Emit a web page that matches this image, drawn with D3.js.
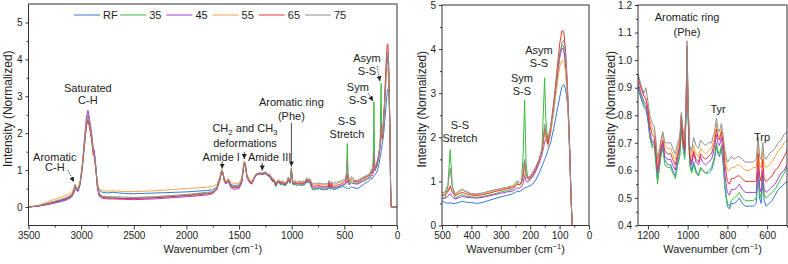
<!DOCTYPE html>
<html>
<head>
<meta charset="utf-8">
<script src="https://cdn.jsdelivr.net/npm/d3@7"></script>
<style>
  body { margin: 0; background: #fff; }
  text { font-family: "Liberation Sans", Arial, sans-serif; fill: #222; }
</style>
</head>
<body>
<div id="chart"></div>
<script>
/* Wavenumbers (cm-1) shared by every spectrum. */
const wavenumbers = [
  3500, 3400, 3300, 3200, 3130, 3090, 3070, 3058, 3045, 3030, 3010, 2990, 2970, 2950, 2935, 2920, 2900, 2885, 2875, 2860,
  2845, 2830, 2800, 2750, 2700, 2600, 2500, 2400, 2300, 2200, 2100, 2000, 1900, 1800, 1750, 1710, 1680, 1665, 1655, 1640,
  1625, 1610, 1600, 1590, 1570, 1540, 1500, 1475, 1460, 1450, 1440, 1425, 1400, 1380, 1360, 1340, 1320, 1300, 1280, 1260,
  1250, 1235, 1220, 1210, 1200, 1190, 1178, 1168, 1160, 1152, 1144, 1135, 1125, 1115, 1100, 1085, 1075, 1062, 1050, 1040,
  1032, 1025, 1015, 1008, 1003, 998, 990, 980, 970, 958, 945, 935, 925, 910, 895, 880, 865, 855, 848, 840,
  830, 822, 812, 800, 790, 780, 765, 750, 740, 725, 710, 690, 670, 655, 645, 638, 630, 622, 615, 605,
  590, 575, 560, 545, 530, 515,
  500, 490, 480, 472, 465, 455, 440, 430, 420, 400, 380, 360, 340, 320, 300, 280, 260, 250, 244, 238,
  230, 224, 219, 214, 208, 200, 190, 180, 170, 160, 155, 151, 147, 140, 130, 120, 110, 100, 92, 86,
  80, 74, 70, 65, 61, 57, 0
]

/* Normalized intensity, one list per sample. */
const seriesRF = [
  0, .03, .08, .14, .2, .27, .38, .5, .45, .42, .6, 1.0, 1.6, 2.2, 2.45, 2.2, 1.85, 1.45, 1.4, 1.0,
  .6, .45, .4, .38, .4, .37, .36, .37, .38, .39, .4, .41, .43, .45, .47, .55, .8, 1.0, .95, .75,
  .68, .72, .74, .68, .6, .58, .6, .72, 1.05, 1.22, 1.15, .85, .7, .66, .78, .88, .9, .92, .9, .92,
  .9, .86, .83, .82, .78, .72, .69, .7, .64, .57, .6, .66, .69, .64, .62, .62, .6, .58, .63, .66,
  .76, .7, .65, .8, .98, .8, .64, .6, .63, .6, .58, .61, .6, .59, .59, .6, .64, .69, .66, .65,
  .68, .63, .53, .47, .46, .48, .48, .49, .5, .48, .47, .47, .47, .48, .58, .5, .48, .56, .49, .47,
  .48, .49, .51, .53, .54, .55,
  .56, .52, .5, .52, .5, .5, .53, .55, .53, .52, .5, .53, .57, .61, .65, .68, .72, .75, .78, .76,
  .8, .82, .85, .86, .88, .9, .95, 1.05, 1.18, 1.35, 1.42, 1.5, 1.55, 1.7, 1.9, 2.2, 2.55, 2.9, 3.15, 3.2,
  3.1, 2.8, 2.4, 1.5, .6, 0, 0
]
const series35 = [
  0, .03, .09, .18, .25, .32, .42, .58, .5, .45, .65, 1.1, 1.7, 2.3, 2.5, 2.25, 1.9, 1.5, 1.45, 1.05,
  .55, .35, .28, .26, .25, .24, .24, .25, .26, .28, .3, .32, .35, .38, .4, .5, .78, .98, .93, .72,
  .65, .7, .72, .64, .55, .53, .55, .68, 1.02, 1.2, 1.12, .82, .68, .64, .76, .86, .88, .9, .88, .9,
  .91, .87, .84, .83, .79, .72, .68, .69, .62, .55, .6, .65, .68, .62, .61, .61, .59, .57, .62, .65,
  .75, .69, .64, .8, 1.0, .8, .62, .59, .62, .59, .58, .61, .6, .59, .6, .61, .65, .7, .67, .66,
  .69, .64, .54, .48, .47, .49, .5, .51, .52, .5, .49, .49, .49, .5, .6, .52, .5, .58, .51, .5,
  .51, .52, .53, .55, .57, .59,
  .61, .62, .9, 1.72, .9, .62, .68, .7, .67, .65, .64, .66, .69, .72, .76, .79, .82, .9, .98, .92,
  .95, 1.6, 2.85, 1.4, 1.05, 1.05, 1.12, 1.25, 1.45, 1.75, 2.6, 3.35, 2.4, 1.9, 2.2, 2.7, 3.3, 3.9, 4.1, 4.05,
  3.6, 3.0, 2.5, 1.55, .6, 0, 0
]
const series45 = [
  0, .03, .08, .16, .22, .3, .4, .55, .48, .44, .62, 1.1, 1.8, 2.45, 2.62, 2.4, 2.0, 1.58, 1.55, 1.1,
  .5, .3, .24, .22, .22, .21, .2, .21, .22, .24, .26, .28, .3, .33, .36, .48, .75, .97, .92, .7,
  .62, .66, .68, .6, .5, .48, .5, .65, 1.0, 1.18, 1.1, .8, .66, .62, .75, .86, .88, .9, .88, .9,
  .92, .88, .85, .84, .8, .74, .7, .71, .66, .59, .62, .67, .7, .65, .64, .64, .62, .6, .65, .68,
  .78, .72, .67, .82, 1.02, .82, .65, .62, .66, .63, .62, .65, .63, .62, .63, .64, .68, .73, .7, .69,
  .72, .67, .58, .52, .51, .53, .53, .54, .55, .53, .52, .52, .52, .52, .62, .54, .52, .6, .53, .52,
  .53, .54, .55, .57, .59, .6,
  .62, .62, .66, .73, .65, .6, .64, .66, .64, .63, .62, .64, .67, .7, .73, .76, .78, .82, .86, .84,
  .88, .95, 1.15, 1.0, .98, 1.05, 1.12, 1.25, 1.4, 1.6, 1.75, 1.9, 1.95, 1.85, 2.15, 2.6, 3.2, 3.8, 4.02, 4.0,
  3.7, 3.1, 2.5, 1.55, .6, 0, 0
]
const series55 = [
  0, .05, .16, .26, .33, .4, .5, .62, .55, .5, .7, 1.1, 1.7, 2.3, 2.45, 2.2, 1.85, 1.45, 1.4, 1.0,
  .65, .5, .45, .43, .44, .42, .42, .43, .44, .46, .48, .5, .52, .54, .56, .62, .85, 1.02, .97, .78,
  .72, .76, .78, .72, .66, .64, .65, .78, 1.1, 1.25, 1.18, .88, .74, .7, .8, .9, .92, .93, .92, .94,
  .94, .9, .87, .86, .83, .78, .75, .74, .7, .63, .66, .7, .73, .69, .68, .68, .66, .64, .68, .71,
  .8, .74, .7, .84, 1.04, .84, .68, .65, .69, .66, .65, .68, .67, .66, .67, .68, .72, .77, .73, .72,
  .75, .71, .65, .6, .6, .61, .61, .62, .62, .61, .6, .6, .61, .61, .69, .62, .61, .67, .62, .61,
  .62, .63, .65, .67, .68, .7,
  .71, .72, .76, .85, .76, .7, .77, .8, .76, .71, .7, .72, .76, .79, .82, .85, .88, .92, .95, .92,
  .95, 1.1, 1.3, 1.1, 1.05, 1.1, 1.18, 1.3, 1.45, 1.65, 1.85, 2.1, 2.0, 1.8, 2.1, 2.6, 3.1, 3.6, 3.75, 3.72,
  3.5, 2.9, 2.4, 1.5, .6, 0, 0
]
const series65 = [
  0, .03, .1, .18, .24, .3, .42, .58, .5, .46, .65, 1.05, 1.65, 2.2, 2.35, 2.15, 1.8, 1.4, 1.38, 1.0,
  .55, .33, .26, .24, .24, .23, .23, .24, .25, .27, .29, .31, .33, .36, .38, .5, .78, .98, .93, .72,
  .65, .7, .72, .64, .54, .52, .54, .68, 1.02, 1.2, 1.12, .82, .68, .64, .77, .88, .9, .92, .9, .92,
  .94, .9, .87, .86, .82, .76, .73, .72, .67, .6, .64, .68, .71, .67, .66, .66, .64, .62, .66, .69,
  .8, .73, .68, .84, 1.05, .84, .66, .63, .67, .64, .63, .66, .65, .64, .65, .66, .7, .75, .72, .71,
  .74, .7, .62, .56, .55, .57, .57, .58, .58, .57, .56, .56, .56, .56, .66, .58, .56, .64, .57, .56,
  .57, .58, .6, .61, .63, .65,
  .67, .7, .78, .9, .76, .68, .73, .75, .72, .69, .68, .7, .73, .77, .8, .83, .86, .9, .94, .92,
  .96, 1.15, 1.45, 1.15, 1.08, 1.08, 1.18, 1.3, 1.48, 1.7, 1.95, 2.2, 2.1, 1.85, 2.25, 2.8, 3.45, 4.1, 4.42, 4.4,
  4.0, 3.3, 2.6, 1.65, .65, 0, 0
]
const series75 = [
  0, .04, .12, .2, .27, .34, .45, .6, .52, .48, .66, 1.08, 1.7, 2.3, 2.5, 2.25, 1.9, 1.5, 1.45, 1.05,
  .58, .38, .3, .28, .28, .27, .26, .27, .28, .3, .32, .34, .37, .4, .42, .52, .8, 1.0, .95, .74,
  .67, .72, .74, .66, .57, .55, .57, .7, 1.04, 1.22, 1.14, .84, .7, .66, .78, .88, .9, .92, .91, .93,
  .95, .91, .88, .9, .85, .8, .77, .76, .71, .64, .67, .71, .74, .7, .7, .7, .68, .66, .7, .72,
  .81, .76, .71, .85, 1.07, .85, .69, .67, .72, .69, .68, .71, .7, .69, .7, .7, .74, .79, .75, .74,
  .77, .73, .67, .63, .64, .65, .64, .65, .65, .64, .63, .63, .63, .64, .72, .65, .64, .7, .65, .64,
  .66, .67, .68, .7, .71, .73,
  .74, .76, .9, 1.3, .88, .72, .8, .82, .78, .72, .72, .74, .78, .81, .84, .87, .9, .97, 1.02, .97,
  .98, 1.25, 1.5, 1.15, 1.1, 1.12, 1.22, 1.35, 1.5, 1.72, 2.0, 2.3, 2.15, 1.95, 2.25, 2.7, 3.3, 3.8, 4.15, 4.2,
  3.9, 3.2, 2.55, 1.6, .62, 0, 0
]

const seriesNames = ["RF", "35", "45", "55", "65", "75"]
const seriesColors = ["#3778d6", "#3dbb3d", "#a83ddf", "#f5a544", "#e5372d", "#8f8f8f"]

/* Tick values of the three panels. */
const fullXTicks = [3500, 3000, 2500, 2000, 1500, 1000, 500, 0]
const fullYTicks = [0, 1, 2, 3, 4, 5]
const lowXTicks = [500, 400, 300, 200, 100, 0]
const lowYTicks = [0, 1, 2, 3, 4, 5]
const midXTicks = [1200, 1000, 800, 600]
const midYTicks = [0.4, 0.5, 0.6, 0.7, 0.8, 0.9, 1.0, 1.1, 1.2]

/* Pair every series with the wavenumbers. */
const allSeries = [seriesRF, series35, series45, series55, series65, series75].map((values, i) => ({
  name: seriesNames[i],
  color: seriesColors[i],
  points: wavenumbers.map((w, j) => [w, values[j]])
}))

/* Create svg-element. */
const width = 788
const height = 264
const svg = d3.select("#chart")
  .append("svg")
  .attr("width", width)
  .attr("height", height)

/* Arrow head marker for annotations. */
svg.append("defs")
  .append("marker")
  .attr("id", "head")
  .attr("markerUnits", "userSpaceOnUse")
  .attr("markerWidth", 5)
  .attr("markerHeight", 5)
  .attr("refX", 5)
  .attr("refY", 2.5)
  .attr("orient", "auto")
  .append("path")
  .attr("d", "M0,0 L5,2.5 L0,5 Z")
  .attr("fill", "#222")

/* Panel layout. */
const panels = [
  {
    key: "full", xDomain: [3500, 0], yDomain: [-0.5, 5.5], left: 28.5, right: 397, top: 4, bottom: 225.5,
    xTicks: fullXTicks, xMinor: d3.range(250, 3500, 500), yTicks: fullYTicks, yMinor: d3.range(0.5, 5.5, 1),
    yFormat: d3.format("d"), yTitleX: 12
  },
  {
    key: "low", xDomain: [500, 0], yDomain: [0, 5], left: 442, right: 589, top: 5, bottom: 225.5,
    xTicks: lowXTicks, xMinor: d3.range(50, 500, 100), yTicks: lowYTicks, yMinor: d3.range(0.5, 5, 1),
    yFormat: d3.format("d"), yTitleX: 426
  },
  {
    key: "mid", xDomain: [1250, 500], yDomain: [0.4, 1.2], left: 638, right: 787, top: 5, bottom: 225.5,
    xTicks: midXTicks, xMinor: d3.range(500, 1250, 200), yTicks: midYTicks, yMinor: d3.range(0.45, 1.2, 0.1),
    yFormat: d3.format(".1f"), yTitleX: 615
  }
]

panels.forEach(p => {
  p.x = d3.scaleLinear().domain(p.xDomain).range([p.left, p.right])
  p.y = d3.scaleLinear().domain(p.yDomain).range([p.bottom, p.top])

  const g = svg.append("g")

  /* Clip the spectra to the plot frame. */
  svg.select("defs")
    .append("clipPath")
    .attr("id", `clip-${p.key}`)
    .append("rect")
    .attr("x", p.left)
    .attr("y", p.top)
    .attr("width", p.right - p.left)
    .attr("height", p.bottom - p.top)

  const line = d3.line()
    .x(d => p.x(d[0]))
    .y(d => p.y(d[1]))

  g.append("g")
    .attr("clip-path", `url(#clip-${p.key})`)
    .selectAll("path")
    .data(allSeries)
    .enter()
    .append("path")
    .attr("d", d => line(d.points))
    .attr("fill", "none")
    .attr("stroke", d => d.color)
    .attr("stroke-width", 1)
    .attr("stroke-linejoin", "round")

  /* Axes: major and minor ticks, outward. */
  const xAxis = g.append("g")
    .attr("transform", `translate(0,${p.bottom})`)
    .call(d3.axisBottom(p.x).tickValues(p.xTicks).tickSize(4).tickPadding(2).tickFormat(d3.format("d")))
  const xMinor = g.append("g")
    .attr("transform", `translate(0,${p.bottom})`)
    .call(d3.axisBottom(p.x).tickValues(p.xMinor).tickSize(2).tickFormat(""))
  const yAxis = g.append("g")
    .attr("transform", `translate(${p.left},0)`)
    .call(d3.axisLeft(p.y).tickValues(p.yTicks).tickSize(3).tickPadding(3).tickFormat(p.yFormat))
  const yMinor = g.append("g")
    .attr("transform", `translate(${p.left},0)`)
    .call(d3.axisLeft(p.y).tickValues(p.yMinor).tickSize(2).tickFormat(""))

  ;[xAxis, xMinor, yAxis, yMinor].forEach(a => {
    a.select(".domain").remove()
    a.selectAll("line").attr("stroke", "#333")
    a.selectAll("text").attr("font-size", "10px").attr("fill", "#222")
      .attr("font-family", "'Liberation Sans', Arial, sans-serif")
  })

  /* Frame. */
  g.append("rect")
    .attr("x", p.left)
    .attr("y", p.top)
    .attr("width", p.right - p.left)
    .attr("height", p.bottom - p.top)
    .attr("fill", "none")
    .attr("stroke", "#333")
    .attr("stroke-width", 1)

  /* Axis titles. */
  const xTitle = g.append("text")
    .attr("x", (p.left + p.right) / 2)
    .attr("y", 253)
    .attr("text-anchor", "middle")
    .attr("font-size", "11px")
  xTitle.append("tspan").text("Wavenumber (cm")
  xTitle.append("tspan").text("−1").attr("font-size", "7.5px").attr("dy", -4)
  xTitle.append("tspan").text(")").attr("dy", 4)

  g.append("text")
    .attr("transform", `translate(${p.yTitleX},${(p.top + p.bottom) / 2 - 6}) rotate(-90)`)
    .attr("text-anchor", "middle")
    .attr("font-size", "12px")
    .text("Intensity (Normalized)")
})

const [full, low, mid] = panels

/* Write a (multi-line) label; "_2" style parts become subscripts. */
function label(p, lines, w, v, step, anchor) {
  const t = svg.append("text")
    .attr("font-size", "11px")
    .attr("text-anchor", anchor || "middle")
  lines.forEach((ln, i) => {
    const row = t.append("tspan")
      .attr("x", p.x(w))
      .attr("y", p.y(v) + i * step)
    ln.split(/(_\d)/).filter(s => s).forEach(part => {
      if (part[0] === "_") {
        row.append("tspan").text(part.slice(1)).attr("font-size", "8px").attr("dy", 3)
      } else {
        const s = row.append("tspan").text(part)
        if (row.selectAll("tspan").size() > 1) s.attr("dy", -3)
      }
    })
  })
}

function arrow(p, from, to, dashed) {
  svg.append("line")
    .attr("x1", p.x(from[0]))
    .attr("y1", p.y(from[1]))
    .attr("x2", p.x(to[0]))
    .attr("y2", p.y(to[1]))
    .attr("stroke", "#222")
    .attr("stroke-width", 0.8)
    .attr("stroke-dasharray", dashed ? "1.5,1.2" : null)
    .attr("marker-end", "url(#head)")
}

/* Panel 1 annotations. */
label(full, ["Aromatic", "C-H"], 3250, 1.25, 10.5)
label(full, ["Saturated", "C-H"], 2936, 3.12, 12)
label(full, ["CH_2 and CH_3", "deformations"], 1444, 2.03, 15)
label(full, ["Amide I"], 1492, 1.25, 0, "end")
label(full, ["Amide III"], 1416, 1.25, 0, "start")
label(full, ["Aromatic ring", "(Phe)"], 1003, 2.74, 14)
label(full, ["S-S", "Stretch"], 475, 2.22, 13)
label(full, ["Sym", "S-S"], 372, 3.14, 13)
label(full, ["Asym", "S-S"], 285, 3.93, 13)
arrow(full, [3126, 1.0], [3069, 0.68], true)
arrow(full, [1660, 1.24], [1660, 1.04])
arrow(full, [1450, 1.5], [1450, 1.3])
arrow(full, [1280, 1.2], [1280, 0.99])
arrow(full, [1003, 2.28], [1003, 1.1])
arrow(full, [276, 3.09], [228, 2.87], true)
arrow(full, [190, 3.82], [162, 3.41], true)

/* Panel 2 annotations. */
label(low, ["S-S", "Stretch"], 439, 2.19, 13)
label(low, ["Sym", "S-S"], 228, 3.25, 13)
label(low, ["Asym", "S-S"], 170, 3.89, 13)

/* Panel 3 annotations. */
label(mid, ["Aromatic ring", "(Phe)"], 1003, 1.142, 15)
label(mid, ["Tyr"], 847, 0.808, 0)
label(mid, ["Trp"], 626, 0.707, 0)

/* Legend along the top of panel 1. */
const legend = svg.append("g")
  .selectAll("g")
  .data(allSeries)
  .enter()
  .append("g")
  .attr("transform", (d, i) => `translate(${74 + i * 46.2},15)`)

legend.append("line")
  .attr("x1", 0)
  .attr("x2", 26)
  .attr("stroke", d => d.color)
  .attr("stroke-width", 1)

legend.append("text")
  .attr("x", 29)
  .attr("y", 4)
  .attr("font-size", "11px")
  .text(d => d.name)
</script>
</body>
</html>
